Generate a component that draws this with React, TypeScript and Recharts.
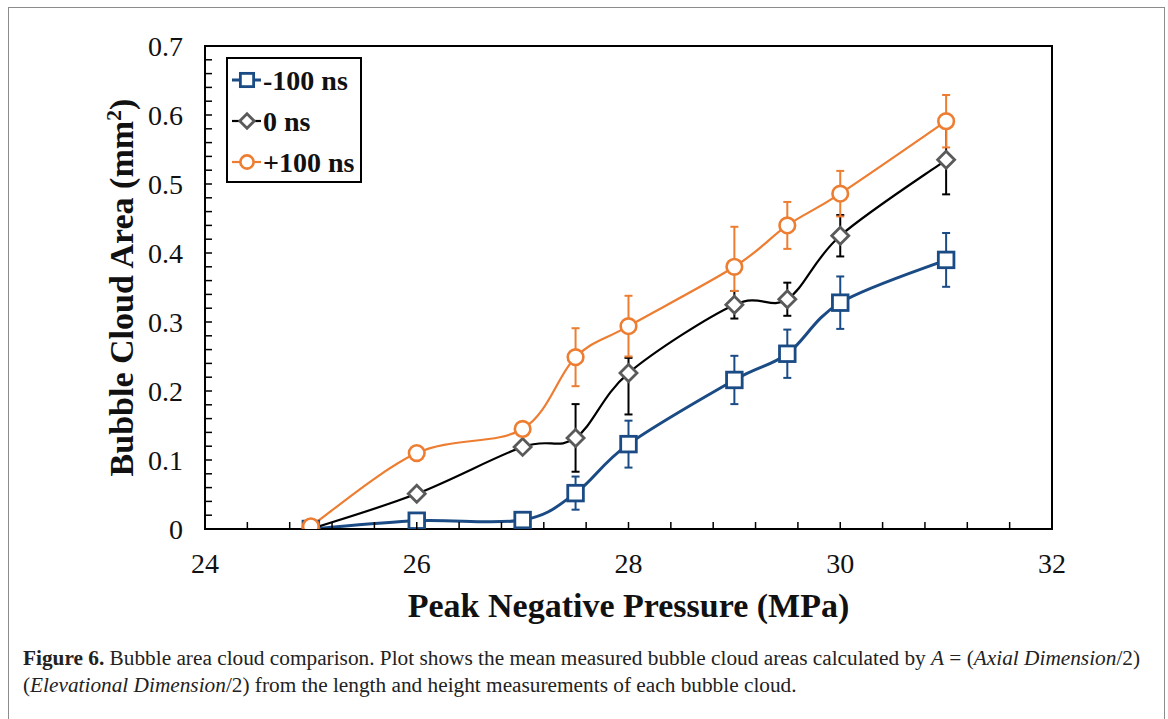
import React from "react";
import { LineChart, Line, XAxis, YAxis, ErrorBar, ReferenceArea, Legend, Label } from "recharts";

// Peak negative pressure (MPa)
const pressures = [25, 26, 27, 27.5, 28, 29, 29.5, 30, 31];

// mean bubble cloud area (mm^2)
const areaMinus100 = [0, 0.012, 0.013, 0.052, 0.123, 0.216, 0.254, 0.328, 0.39];
const areaZero = [0, 0.051, 0.119, 0.132, 0.226, 0.325, 0.333, 0.425, 0.535];
const areaPlus100 = [0.004, 0.11, 0.145, 0.249, 0.294, 0.38, 0.44, 0.486, 0.591];

// error bars as [minus, plus]
const errMinus100 = [[0, 0], [0.003, 0.003], [0.003, 0.003], [0.024, 0.024], [0.034, 0.034], [0.035, 0.035], [0.035, 0.035], [0.038, 0.038], [0.039, 0.039]];
const errZero = [[0, 0], [0.003, 0.003], [0.005, 0.005], [0.049, 0.049], [0.06, 0.022], [0.02, 0.02], [0.024, 0.024], [0.03, 0.03], [0.05, 0.05]];
const errPlus100 = [[0.002, 0.002], [0.004, 0.004], [0.007, 0.007], [0.042, 0.042], [0.044, 0.044], [0.035, 0.058], [0.034, 0.034], [0.033, 0.033], [0.038, 0.038]];

const xMajorTicks = [24, 26, 28, 30, 32];
const yMajorTicks = [0, 0.1, 0.2, 0.3, 0.4, 0.5, 0.6, 0.7];
const xMinorStep = 0.4;
const yMinorStep = 0.02;

const xTicks = Array.from({ length: Math.round((32 - 24) / xMinorStep) + 1 }, (_, i) => 24 + i * xMinorStep);
const yTicks = Array.from({ length: Math.round(0.7 / yMinorStep) + 1 }, (_, i) => i * yMinorStep);

const data = pressures.map((p, i) => ({
  p,
  m100: areaMinus100[i],
  m100Err: errMinus100[i],
  z: areaZero[i],
  zErr: errZero[i],
  p100: areaPlus100[i],
  p100Err: errPlus100[i],
}));

const BLUE = "#1a4b85";
const ORANGE = "#ed7d31";
const GRAY = "#5a5a5a";
const SERIF = '"Liberation Serif", "Times New Roman", Times, serif';

const series = [
  { key: "m100", err: "m100Err", name: "-100 ns", line: BLUE, marker: "square", mColor: BLUE, eColor: BLUE, width: 3 },
  { key: "z", err: "zErr", name: "0 ns", line: "#000", marker: "diamond", mColor: GRAY, eColor: "#000", width: 2.2 },
  { key: "p100", err: "p100Err", name: "+100 ns", line: ORANGE, marker: "circle", mColor: ORANGE, eColor: ORANGE, width: 2.2 },
];

// Excel style smoothed line (Catmull-Rom through the points)
function excelSmooth(context: any) {
  let pts: number[][] = [];
  return {
    areaStart() {},
    areaEnd() {},
    lineStart() {
      pts = [];
    },
    point(x: number, y: number) {
      pts.push([+x, +y]);
    },
    lineEnd() {
      const n = pts.length;
      if (!n) return;
      context.moveTo(pts[0][0], pts[0][1]);
      for (let i = 0; i < n - 1; i++) {
        const p0 = pts[Math.max(i - 1, 0)];
        const p1 = pts[i];
        const p2 = pts[i + 1];
        const p3 = pts[Math.min(i + 2, n - 1)];
        context.bezierCurveTo(
          p1[0] + (p2[0] - p0[0]) / 6,
          p1[1] + (p2[1] - p0[1]) / 6,
          p2[0] - (p3[0] - p1[0]) / 6,
          p2[1] - (p3[1] - p1[1]) / 6,
          p2[0],
          p2[1]
        );
      }
    },
  };
}

function Marker({ cx, cy, kind, color, s = 1 }: any) {
  if (cx == null || cy == null) return null;
  if (kind === "square") {
    const h = 7.8 * s;
    return <rect x={cx - h} y={cy - h} width={2 * h} height={2 * h} fill="#fff" stroke={color} strokeWidth={2.8} />;
  }
  if (kind === "diamond") {
    const r = 8.5 * s;
    return (
      <path
        d={`M${cx},${cy - r}L${cx + r},${cy}L${cx},${cy + r}L${cx - r},${cy}Z`}
        fill="#fff"
        stroke={color}
        strokeWidth={2.8}
      />
    );
  }
  return <circle cx={cx} cy={cy} r={7.8 * s} fill="#fff" stroke={color} strokeWidth={2.6} />;
}

const TICK_GAP = 24;
const TICK_LEN = 7;

function XTick(props: any) {
  const { x, y, payload } = props;
  const axisY = y - TICK_GAP;
  const major = xMajorTicks.find((t) => Math.abs(t - payload.value) < 1e-6);
  return (
    <g>
      <line x1={x} x2={x} y1={axisY} y2={axisY - TICK_LEN} stroke="#000" strokeWidth={1.5} />
      {major !== undefined && (
        <text x={x} y={y} dy="0.71em" textAnchor="middle" fontFamily={SERIF} fontSize={28} fill="#111">
          {major}
        </text>
      )}
    </g>
  );
}

function YTick(props: any) {
  const { x, y, payload } = props;
  const axisX = x + TICK_GAP;
  const major = yMajorTicks.find((t) => Math.abs(t - payload.value) < 1e-6);
  return (
    <g>
      <line x1={axisX} x2={axisX + TICK_LEN} y1={y} y2={y} stroke="#000" strokeWidth={1.5} />
      {major !== undefined && (
        <text x={x + 2} y={y} dy="0.355em" textAnchor="end" fontFamily={SERIF} fontSize={28} fill="#111">
          {major}
        </text>
      )}
    </g>
  );
}

function XTitle(props: any) {
  const { x, y, width } = props.viewBox;
  return (
    <text x={x + width / 2} y={y + 88} textAnchor="middle" fontFamily={SERIF} fontWeight="bold" fontSize={34} fill="#111">
      Peak Negative Pressure (MPa)
    </text>
  );
}

function YTitle(props: any) {
  const { y, height } = props.viewBox;
  const cx = 133;
  const cy = y + height / 2;
  return (
    <text
      x={cx}
      y={cy}
      transform={`rotate(-90, ${cx}, ${cy})`}
      textAnchor="middle"
      fontFamily={SERIF}
      fontWeight="bold"
      fontSize={34}
      fill="#111"
    >
      Bubble Cloud Area (mm
      <tspan dy={-12} fontSize={22}>
        2
      </tspan>
      <tspan dy={12}>)</tspan>
    </text>
  );
}

function LegendBox() {
  const rows = [23, 64, 105];
  return (
    <svg width={136} height={126} style={{ display: "block" }}>
      <rect x={1} y={1} width={134} height={124} fill="#fff" stroke="#000" strokeWidth={2} />
      {series.map((s, i) => (
        <g key={s.key}>
          <line x1={6} x2={35} y1={rows[i]} y2={rows[i]} stroke={s.line} strokeWidth={s.width} />
          <Marker cx={21} cy={rows[i]} kind={s.marker} color={s.mColor} s={0.85} />
          <text x={37} y={rows[i]} dy="0.35em" fontFamily={SERIF} fontWeight="bold" fontSize={28} fill="#111">
            {s.name}
          </text>
        </g>
      ))}
    </svg>
  );
}

export default function App() {
  return (
    <div style={{ position: "absolute", left: 0, top: 0, width: 1168, height: 719, background: "#fff", overflow: "hidden" }}>
      <div
        style={{
          position: "absolute",
          left: 8,
          top: 7,
          width: 1157,
          height: 760,
          border: "1.5px solid #8c8c8c",
          boxSizing: "border-box",
        }}
      />
      <LineChart
        width={1168}
        height={719}
        data={data}
        margin={{ top: 46, right: 116, left: 105, bottom: 95 }}
        style={{ position: "absolute", left: 0, top: 0 }}
      >
        <ReferenceArea x1={24} x2={32} y1={0} y2={0.7} fill="none" stroke="#000" strokeWidth={2} ifOverflow="visible" />
        <XAxis
          dataKey="p"
          type="number"
          domain={[24, 32]}
          ticks={xTicks}
          interval={0}
          height={95}
          tickSize={0}
          tickMargin={TICK_GAP}
          tickLine={false}
          axisLine={{ stroke: "#000", strokeWidth: 2 }}
          tick={(p: any) => <XTick {...p} />}
          allowDataOverflow
        >
          <Label content={(p: any) => <XTitle {...p} />} />
        </XAxis>
        <YAxis
          type="number"
          domain={[0, 0.7]}
          ticks={yTicks}
          interval={0}
          width={100}
          tickSize={0}
          tickMargin={TICK_GAP}
          tickLine={false}
          axisLine={{ stroke: "#000", strokeWidth: 2 }}
          tick={(p: any) => <YTick {...p} />}
          allowDataOverflow
        >
          <Label content={(p: any) => <YTitle {...p} />} />
        </YAxis>
        <Legend
          layout="vertical"
          align="center"
          verticalAlign="middle"
          wrapperStyle={{ left: 226, top: 57, width: 136, height: 126 }}
          content={() => <LegendBox />}
        />
        {series.map((s) => (
          <Line
            key={s.key}
            dataKey={s.key}
            name={s.name}
            type={excelSmooth as any}
            stroke={s.line}
            strokeWidth={s.width}
            dot={(p: any) => <Marker key={`${s.key}-${p.index}`} cx={p.cx} cy={p.cy} kind={s.marker} color={s.mColor} />}
            activeDot={false}
            isAnimationActive={false}
          />
        ))}
        {series.map((s) => (
          <Line
            key={`${s.key}-err`}
            dataKey={s.key}
            stroke="none"
            dot={false}
            activeDot={false}
            legendType="none"
            isAnimationActive={false}
          >
            <ErrorBar dataKey={s.err} width={4} strokeWidth={2} stroke={s.eColor} direction="y" />
          </Line>
        ))}
      </LineChart>
      <div
        style={{
          position: "absolute",
          left: 23,
          top: 645,
          width: 1135,
          fontFamily: SERIF,
          fontSize: 21.3,
          lineHeight: "27px",
          color: "#222",
          whiteSpace: "nowrap",
        }}
      >
        <b>Figure 6.</b> Bubble area cloud comparison. Plot shows the mean measured bubble cloud areas calculated by{" "}
        <i>A</i> = (<i>Axial Dimension</i>/2)
        <br />
        (<i>Elevational Dimension</i>/2) from the length and height measurements of each bubble cloud.
      </div>
    </div>
  );
}
